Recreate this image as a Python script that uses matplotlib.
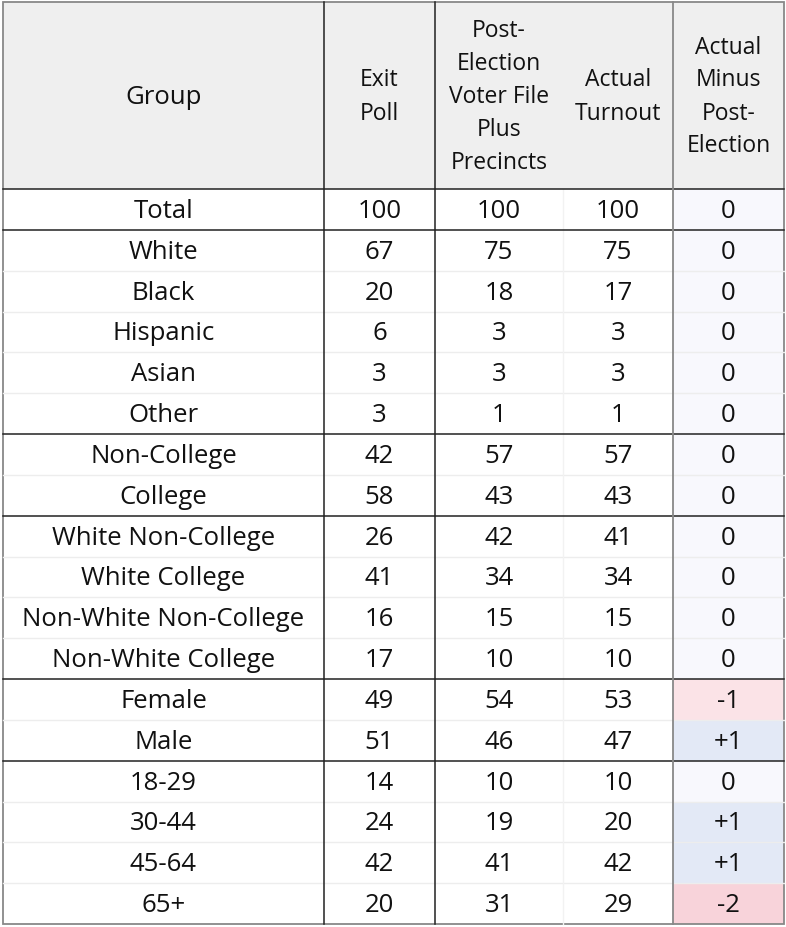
import matplotlib.pyplot as plt
from matplotlib.patches import Rectangle

groups = ['Total', 'White', 'Black', 'Hispanic', 'Asian', 'Other',
          'Non-College', 'College',
          'White Non-College', 'White College', 'Non-White Non-College', 'Non-White College',
          'Female', 'Male',
          '18-29', '30-44', '45-64', '65+']
exit_poll = [100, 67, 20, 6, 3, 3, 42, 58, 26, 41, 16, 17, 49, 51, 14, 24, 42, 20]
post_election = [100, 75, 18, 3, 3, 1, 57, 43, 42, 34, 15, 10, 54, 46, 10, 19, 41, 31]
actual = [100, 75, 17, 3, 3, 1, 57, 43, 41, 34, 15, 10, 53, 47, 10, 20, 42, 29]
diff = [0, 0, 0, 0, 0, 0, 0, 0, 0, 0, 0, 0, -1, 1, 0, 1, 1, -2]
# rows after which a section ends
section_ends = [0, 5, 7, 11, 13]

headers = ['Group', 'Exit\nPoll', 'Post-\nElection\nVoter File\nPlus\nPrecincts',
           'Actual\nTurnout', 'Actual\nMinus\nPost-\nElection']

plt.rcParams['font.family'] = ['Open Sans', 'DejaVu Sans']

W, H = 786, 928
fig = plt.figure(figsize=(W / 100, H / 100), dpi=100)
ax = fig.add_axes([0, 0, 1, 1])
ax.set_xlim(0, W)
ax.set_ylim(H, 0)
ax.axis('off')

col_edges = [3, 324, 435, 563, 673, 784]
top, head_bot, bottom = 3, 190, 925
row_h = (bottom - head_bot) / len(groups)


def diff_color(d):
    if d <= -2:
        return '#f8d3da'
    if d == -1:
        return '#fbe3e7'
    if d >= 1:
        return '#e3e9f6'
    return '#f8f8fd'


# header background
ax.add_patch(Rectangle((col_edges[0], top), col_edges[-1] - col_edges[0], head_bot - top,
                       facecolor='#efefef', edgecolor='none'))

# diff column backgrounds
for i, d in enumerate(diff):
    y0 = head_bot + i * row_h
    ax.add_patch(Rectangle((col_edges[4], y0), col_edges[5] - col_edges[4], row_h,
                           facecolor=diff_color(d), edgecolor='none'))

# header text
for j, h in enumerate(headers):
    xc = (col_edges[j] + col_edges[j + 1]) / 2
    fs = 18.5 if j == 0 else 16.5
    ax.text(xc, 97, h, ha='center', va='center',
            fontsize=fs, color='#111111', linespacing=1.5)

# body text
for i in range(len(groups)):
    yc = head_bot + (i + 0.5) * row_h + 1
    d = diff[i]
    dtxt = '0' if d == 0 else ('%+d' % d)
    vals = [groups[i], str(exit_poll[i]), str(post_election[i]), str(actual[i]), dtxt]
    for j, v in enumerate(vals):
        xc = (col_edges[j] + col_edges[j + 1]) / 2
        ax.text(xc, yc, v, ha='center', va='center', fontsize=18.5, color='#111111')

# light row separators
for i in range(1, len(groups)):
    y = head_bot + i * row_h
    if (i - 1) in section_ends:
        continue
    ax.plot([col_edges[0], col_edges[-1]], [y, y], color='#ededed', lw=1)

# faint vertical between post-election and actual
ax.plot([col_edges[3], col_edges[3]], [head_bot, bottom], color='#f2f2f2', lw=1)

# section separators
for s in section_ends:
    y = head_bot + (s + 1) * row_h
    ax.plot([col_edges[0], col_edges[-1]], [y, y], color='#222222', lw=1.1)
ax.plot([col_edges[0], col_edges[-1]], [head_bot, head_bot], color='#222222', lw=1.1)

# vertical lines
for x in [col_edges[1], col_edges[2]]:
    ax.plot([x, x], [top, bottom], color='#222222', lw=1.1)
ax.plot([col_edges[4], col_edges[4]], [top, bottom], color='#888888', lw=1.3)

# outer border
ax.add_patch(Rectangle((col_edges[0], top), col_edges[-1] - col_edges[0], bottom - top,
                       facecolor='none', edgecolor='#888888', lw=1.3))

fig.savefig('out.png', dpi=100)
